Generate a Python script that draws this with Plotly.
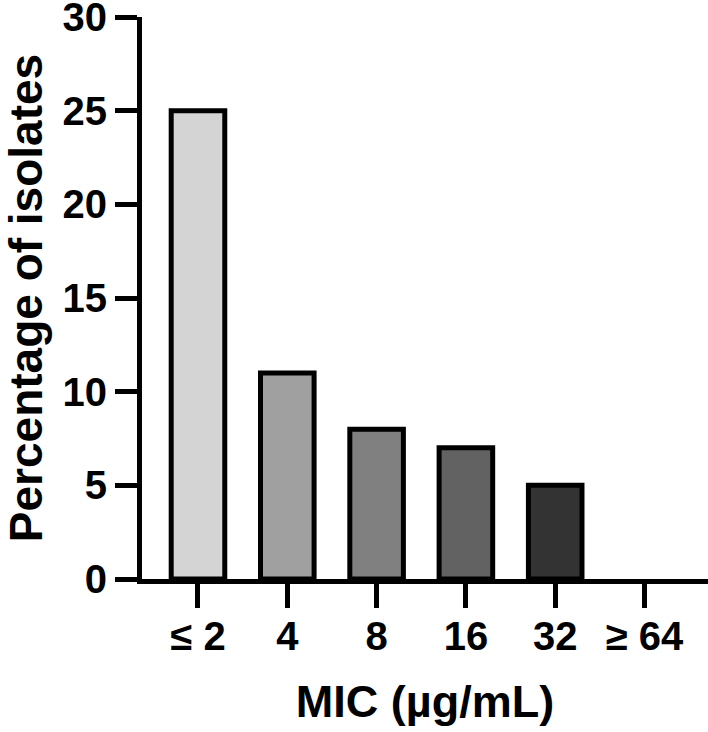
import plotly.graph_objects as go

categories = ["≤ 2", "4", "8", "16", "32", "≥ 64"]
percentages = [25, 11, 8, 7, 5, 0]
bar_colors = ["#d4d4d4", "#a0a0a0", "#808080", "#626262", "#333333", "#1a1a1a"]
y_ticks = [0, 5, 10, 15, 20, 25, 30]

FONT = "Liberation Sans"
line_widths = [5 if v > 0 else 0 for v in percentages]

fig = go.Figure(go.Bar(
    x=list(range(len(categories))),
    y=percentages,
    width=0.6,
    marker=dict(color=bar_colors, line=dict(color="black", width=line_widths)),
))

fig.update_layout(
    width=708, height=732,
    margin=dict(l=142, r=0, t=17, b=153),
    plot_bgcolor="white", paper_bgcolor="white",
    showlegend=False,
    font=dict(family=FONT, color="black"),
    xaxis=dict(
        range=[-0.627, 5.711],
        automargin=False,
        tickmode="array", tickvals=list(range(len(categories))), ticktext=categories,
        showline=True, linecolor="black", linewidth=5,
        ticks="outside", ticklen=24, tickwidth=5, tickcolor="black",
        tickfont=dict(family=FONT, size=40, color="black", weight="bold"),
        showgrid=False, zeroline=False,
        ticklabelstandoff=-6,
        ticklabeloverflow="allow",
        title=dict(text="<b>MIC (µg/mL)</b>", font=dict(family=FONT, size=45, color="black"), standoff=30),
    ),
    yaxis=dict(
        range=[0, 30],
        automargin=False,
        tickmode="array", tickvals=y_ticks,
        showline=True, linecolor="black", linewidth=5,
        ticks="outside", ticklen=22, tickwidth=5, tickcolor="black",
        tickfont=dict(family=FONT, size=40, color="black", weight="bold"),
        showgrid=False, zeroline=False,
        ticklabeloverflow="allow",
        title=dict(text="<b>Percentage of isolates</b>", font=dict(family=FONT, size=46, color="black"), standoff=24),
    ),
)

fig.write_html("out.html", config={"displayModeBar": False},
               post_script="document.body.style.margin='0';")
